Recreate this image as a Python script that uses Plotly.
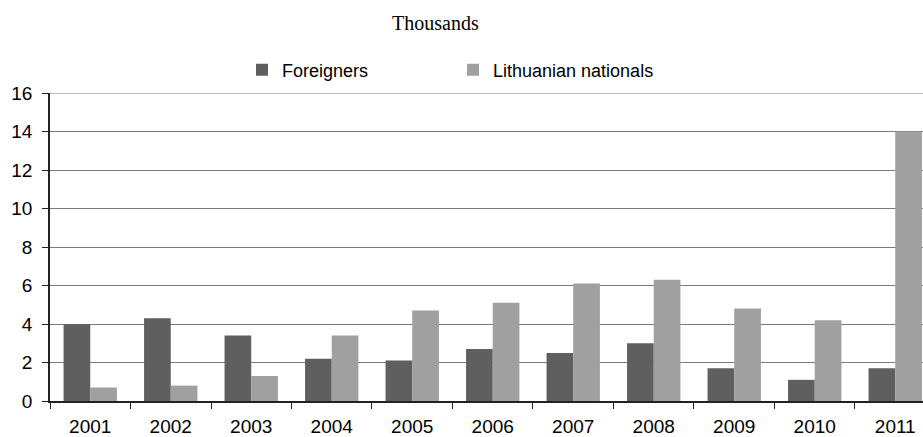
import plotly.graph_objects as go

years = ["2001", "2002", "2003", "2004", "2005", "2006", "2007", "2008", "2009", "2010", "2011"]
foreigners = [4.0, 4.3, 3.4, 2.2, 2.1, 2.7, 2.5, 3.0, 1.7, 1.1, 1.7]
lithuanians = [0.7, 0.8, 1.3, 3.4, 4.7, 5.1, 6.1, 6.3, 4.8, 4.2, 14.0]
y_ticks = [0, 2, 4, 6, 8, 10, 12, 14, 16]

W, H = 923, 437
ml, mr, mt, mb = 50, 0, 93, 34
pw = W - ml - mr
ph = H - mt - mb

fig = go.Figure()
fig.add_trace(go.Bar(x=years, y=foreigners, name="Foreigners",
                     marker=dict(color="#5f5f5f", line=dict(width=0))))
fig.add_trace(go.Bar(x=years, y=lithuanians, name="Lithuanian nationals",
                     marker=dict(color="#a0a0a0", line=dict(width=0))))

fig.update_layout(
    width=W, height=H,
    margin=dict(l=ml, r=mr, t=mt, b=mb, pad=0),
    paper_bgcolor="white", plot_bgcolor="white",
    barmode="group", bargap=0.337, bargroupgap=0,
    font=dict(family="Liberation Sans, Arial, sans-serif", size=18, color="black"),
    showlegend=True,
    legend=dict(orientation="h", x=(242 - ml) / pw, xanchor="left",
                y=1 + 23 / ph, yanchor="middle",
                entrywidth=166, entrywidthmode="pixels", itemwidth=30,
                font=dict(size=18), bgcolor="rgba(0,0,0,0)"),
    annotations=[dict(text="Thousands", xref="paper", yref="paper",
                      x=(435 - ml) / pw, y=1 + (93 - 23) / ph,
                      xanchor="center", yanchor="middle", showarrow=False,
                      font=dict(family="Liberation Serif, Times New Roman, serif", size=20))],
    shapes=[dict(type="line", xref="paper", yref="y", x0=0, x1=1, y0=16, y1=16,
                 line=dict(color="#7a7a7a", width=1.2), layer="below")],
)
fig.update_xaxes(type="category", range=[-0.5, 10.345],
                 showline=True, linecolor="#222", linewidth=1.5,
                 ticks="outside", tickson="boundaries", ticklen=6, tickcolor="#222",
                 ticklabelstandoff=7,
                 showgrid=False, tickfont=dict(size=19))
fig.update_yaxes(range=[0, 16], tickvals=y_ticks,
                 showline=True, linecolor="#222", linewidth=1.5,
                 ticks="outside", ticklen=6, tickcolor="#222",
                 ticklabelstandoff=6,
                 showgrid=True, gridcolor="#7a7a7a", gridwidth=1.2, zeroline=False,
                 tickfont=dict(size=19))

fig.write_html("out.html", config={"displayModeBar": False},
               post_script="document.body.style.margin='0';")
